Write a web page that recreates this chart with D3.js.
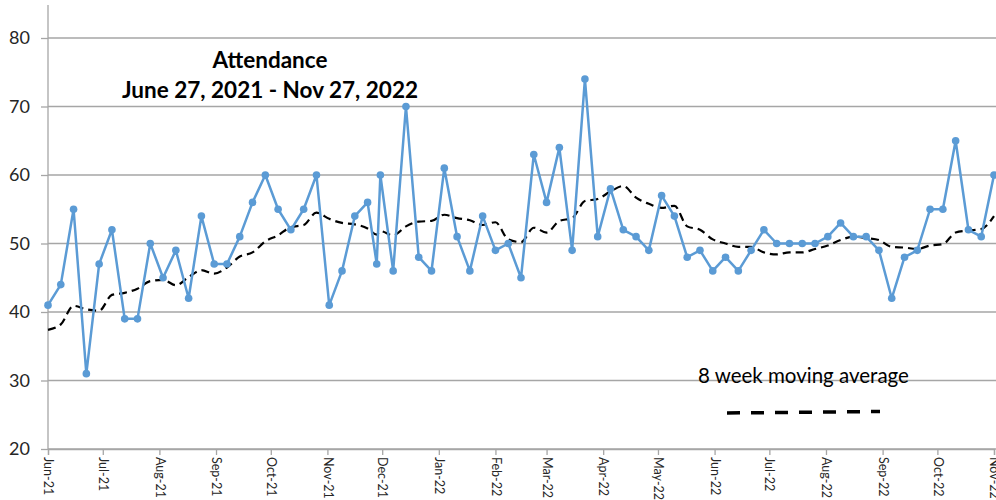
<!DOCTYPE html>
<html>
<head>
<meta charset="utf-8">
<script src="https://cdn.jsdelivr.net/npm/d3@7/dist/d3.min.js"></script>
<style>
  html, body { margin: 0; padding: 0; background: #fff; }
  svg { display: block; }
</style>
</head>
<body>
<svg id="chart" width="996" height="500"></svg>
<script>
// ---- data ----
const dates = [
  "2021-06-27","2021-07-04","2021-07-11","2021-07-18","2021-07-25","2021-08-01","2021-08-08","2021-08-15",
  "2021-08-22","2021-08-29","2021-09-05","2021-09-12","2021-09-19","2021-09-26","2021-10-03","2021-10-10",
  "2021-10-17","2021-10-24","2021-10-31","2021-11-07","2021-11-14","2021-11-21","2021-11-28","2021-12-05",
  "2021-12-12","2021-12-19","2021-12-24","2021-12-26","2022-01-02","2022-01-09","2022-01-16","2022-01-23",
  "2022-01-30","2022-02-06","2022-02-13","2022-02-20","2022-02-27","2022-03-06","2022-03-13","2022-03-20",
  "2022-03-27","2022-04-03","2022-04-10","2022-04-17","2022-04-24","2022-05-01","2022-05-08","2022-05-15",
  "2022-05-22","2022-05-29","2022-06-05","2022-06-12","2022-06-19","2022-06-26","2022-07-03","2022-07-10",
  "2022-07-17","2022-07-24","2022-07-31","2022-08-07","2022-08-14","2022-08-21","2022-08-28","2022-09-04",
  "2022-09-11","2022-09-18","2022-09-25","2022-10-02","2022-10-09","2022-10-16","2022-10-23","2022-10-30",
  "2022-11-06","2022-11-13","2022-11-20","2022-11-27"
];
const attendance = [
  41,44,55,31,47,52,39,39,
  50,45,49,42,54,47,47,51,
  56,60,55,52,55,60,41,46,
  54,56,47,60,46,70,48,46,
  61,51,46,54,49,50,45,63,
  56,64,49,74,51,58,52,51,
  49,57,54,48,49,46,48,46,
  49,52,50,50,50,50,51,53,
  51,51,49,42,48,49,55,55,
  65,52,51,60
];
const movingAvg = [
  37.4,38.2,40.9,40.4,40.2,42.5,42.8,43.4,
  44.5,44.7,43.9,45.1,46.1,45.6,46.5,48.1,
  48.7,50.3,51.2,52.4,52.7,54.5,53.6,53.0,
  52.8,52.2,51.3,51.8,51.2,52.5,53.2,53.3,
  54.2,53.7,53.4,52.7,53.1,50.6,50.2,52.3,
  51.6,53.3,53.7,56.2,56.5,57.6,58.4,56.7,
  55.8,55.2,55.5,52.5,52.0,50.6,50.0,49.5,
  49.5,48.7,48.4,48.7,48.7,49.2,49.7,50.5,
  51.0,50.8,50.5,49.5,49.4,49.2,49.7,49.9,
  51.6,51.9,52.1,54.0
];
const tickDates = [
  "2021-06-27","2021-07-27","2021-08-27","2021-09-27","2021-10-27","2021-11-27",
  "2021-12-27","2022-01-27","2022-02-27","2022-03-27","2022-04-27","2022-05-27",
  "2022-06-27","2022-07-27","2022-08-27","2022-09-27","2022-10-27","2022-11-27"
];
const yTicks = [20, 30, 40, 50, 60, 70, 80];
const titleLines = ["Attendance", "June 27, 2021 - Nov 27, 2022"];
const legendLabel = "8 week moving average";

// ---- setup ----
const parse = d3.timeParse("%Y-%m-%d");
const rows = dates.map((d, i) => ({ date: parse(d), value: attendance[i], ma: movingAvg[i] }));

const svg = d3.select("#chart");
const FONT = "Lato, 'Open Sans', sans-serif";
const M = { left: 48, right: 994, top: 38, bottom: 449 };

const x = d3.scaleTime()
  .domain([parse("2021-06-27"), parse("2022-11-27")])
  .range([M.left, M.right]);
const y = d3.scaleLinear().domain([20, 80]).range([M.bottom, M.top]);

// gridlines
svg.append("g")
  .selectAll("line")
  .data(yTicks)
  .join("line")
  .attr("x1", M.left).attr("x2", 996)
  .attr("y1", d => y(d)).attr("y2", d => y(d))
  .attr("stroke", "#a6a6a6").attr("stroke-width", 1.3);

// y axis
const yAxis = svg.append("g")
  .attr("transform", `translate(${M.left},0)`)
  .call(d3.axisLeft(y).tickValues(yTicks).tickSize(7).tickPadding(11).tickFormat(d3.format("d")));
yAxis.select(".domain").remove();
yAxis.selectAll(".tick line").attr("stroke", "#a6a6a6").attr("stroke-width", 1.3);
yAxis.selectAll(".tick text")
  .attr("font-family", FONT).attr("font-size", 18).attr("fill", "#262626");
svg.append("line")
  .attr("x1", M.left).attr("x2", M.left).attr("y1", 5).attr("y2", M.bottom)
  .attr("stroke", "#a6a6a6").attr("stroke-width", 1.3);

// x axis
const xAxis = svg.append("g")
  .attr("transform", `translate(0,${M.bottom})`)
  .call(d3.axisBottom(x).tickValues(tickDates.map(parse)).tickSize(6).tickFormat(d3.timeFormat("%b-%y")));
xAxis.select(".domain").attr("stroke", "#a6a6a6").attr("stroke-width", 1.3);
xAxis.selectAll(".tick line").attr("stroke", "#a6a6a6").attr("stroke-width", 1.3);
xAxis.selectAll(".tick text")
  .attr("font-family", FONT).attr("font-size", 12.5).attr("fill", "#262626")
  .attr("transform", "rotate(90)")
  .attr("text-anchor", "start")
  .attr("x", 8).attr("y", 0).attr("dy", "0.35em");

// moving average (dashed)
svg.append("path")
  .datum(rows)
  .attr("fill", "none")
  .attr("stroke", "#000")
  .attr("stroke-width", 2.2)
  .attr("stroke-dasharray", "8,5")
  .attr("d", d3.line().x(d => x(d.date)).y(d => y(d.ma)).curve(d3.curveMonotoneX));

// attendance line
svg.append("path")
  .datum(rows)
  .attr("fill", "none")
  .attr("stroke", "#5b9bd5")
  .attr("stroke-width", 2.5)
  .attr("stroke-linejoin", "round")
  .attr("d", d3.line().x(d => x(d.date)).y(d => y(d.value)));

svg.append("g")
  .selectAll("circle")
  .data(rows)
  .join("circle")
  .attr("cx", d => x(d.date)).attr("cy", d => y(d.value))
  .attr("r", 3.8)
  .attr("fill", "#5b9bd5");

// title
svg.append("text")
  .attr("x", 270).attr("y", 68)
  .attr("text-anchor", "middle")
  .attr("font-family", FONT).attr("font-weight", "bold").attr("font-size", 22.5)
  .attr("fill", "#000")
  .text(titleLines[0]);
svg.append("text")
  .attr("x", 270).attr("y", 98)
  .attr("text-anchor", "middle")
  .attr("font-family", FONT).attr("font-weight", "bold").attr("font-size", 22.5)
  .attr("fill", "#000")
  .text(titleLines[1]);

// legend annotation
svg.append("text")
  .attr("x", 698).attr("y", 383)
  .attr("font-family", FONT).attr("font-size", 20.5)
  .attr("fill", "#000")
  .text(legendLabel);
svg.append("line")
  .attr("x1", 727).attr("x2", 880).attr("y1", 413).attr("y2", 411.5)
  .attr("stroke", "#000").attr("stroke-width", 3.5)
  .attr("stroke-dasharray", "13,11");
</script>
</body>
</html>
